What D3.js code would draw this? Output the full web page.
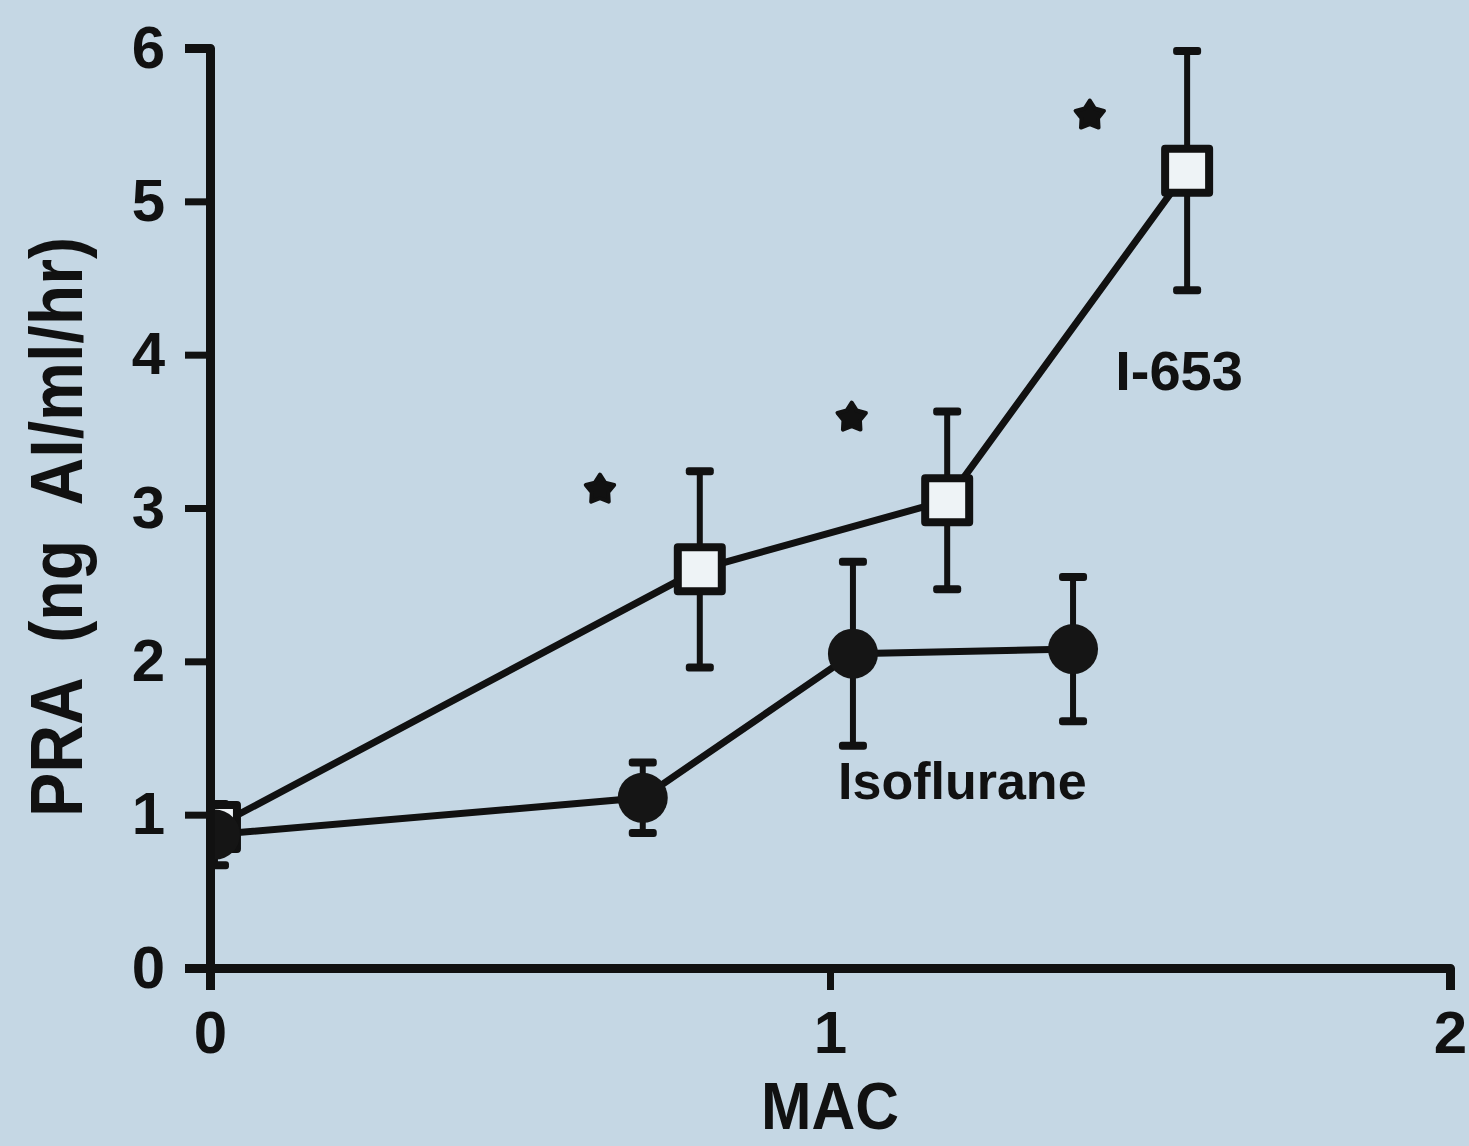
<!DOCTYPE html>
<html lang="en">
<head>
    <meta charset="UTF-8">
    <script src="https://d3js.org/d3.v7.min.js"></script>
    <style>
        body {
            margin: 0;
            background-color: #c5d7e4;
        }
        svg {
            display: block;
            background-color: #c5d7e4;
            font-family: "Liberation Sans", Arial, sans-serif;
            font-weight: bold;
        }
        .axis path, .axis line {
            stroke: #111;
        }
        .axis path {
            stroke-width: 9px;
            stroke-linejoin: round;
        }
        .axis line {
            stroke-width: 7px;
        }
        .axis text {
            font-size: 60px;
            fill: #111;
        }
        .series-line {
            fill: none;
            stroke: #111;
            stroke-width: 7px;
        }
        .err {
            stroke: #111;
            stroke-width: 6px;
        }
        .cap {
            fill: #111;
        }
    </style>
</head>
<body>
<div id="chart"></div>

<script>
    // ticks
    const macTicks = [0, 1, 2];
    const praTicks = [0, 1, 2, 3, 4, 5, 6];

    // Isoflurane (filled circles)
    const isoMac = [0.008, 0.698, 1.037, 1.392];
    const isoPra = [0.87, 1.11, 2.05, 2.08];
    const isoErr = [0.2, 0.23, 0.6, 0.47];

    // I-653 (open squares)
    const i653Mac = [0.008, 0.79, 1.189, 1.576];
    const i653Pra = [0.92, 2.6, 3.05, 5.2];
    const i653Err = [0.12, 0.64, 0.58, 0.78];

    // significance stars
    const starMac = [0.629, 1.035, 1.419];
    const starPra = [3.12, 3.59, 5.56];

    // series labels
    const labelText = ["I-653", "Isoflurane"];
    const labelMac = [1.46, 1.013];
    const labelPra = [3.77, 1.1];

    const W = 1469, H = 1146;

    const svg = d3.select("#chart").append("svg")
        .attr("width", W)
        .attr("height", H);

    const x = d3.scaleLinear().domain([0, 2]).range([210, 1450]);
    const y = d3.scaleLinear().domain([0, 6]).range([968, 48]);

    // markers near MAC 0 are cut at the y axis, as in the print
    svg.append("clipPath")
        .attr("id", "plot-clip")
        .append("rect")
        .attr("x", x(0))
        .attr("y", 0)
        .attr("width", W - x(0))
        .attr("height", H);

    const line = d3.line().x(d => x(d.mac)).y(d => y(d.pra));

    const iso = isoMac.map((m, i) => ({ mac: m, pra: isoPra[i], err: isoErr[i] }));
    const i653 = i653Mac.map((m, i) => ({ mac: m, pra: i653Pra[i], err: i653Err[i] }));

    const plot = svg.append("g").attr("clip-path", "url(#plot-clip)");

    plot.append("path").attr("class", "series-line").attr("d", line(i653));
    plot.append("path").attr("class", "series-line").attr("d", line(iso));

    function errorBars(data) {
        const g = plot.append("g");
        g.selectAll(".err")
            .data(data)
            .enter()
            .append("line")
            .attr("class", "err")
            .attr("x1", d => x(d.mac))
            .attr("x2", d => x(d.mac))
            .attr("y1", d => y(d.pra + d.err))
            .attr("y2", d => y(d.pra - d.err));
        const caps = data.flatMap(d => [d.pra + d.err, d.pra - d.err].map(v => ({ mac: d.mac, v })));
        g.selectAll(".cap")
            .data(caps)
            .enter()
            .append("rect")
            .attr("class", "cap")
            .attr("x", d => x(d.mac) - 14)
            .attr("y", d => y(d.v) - 4)
            .attr("width", 28)
            .attr("height", 8)
            .attr("rx", 3);
    }

    errorBars(i653);
    errorBars(iso);

    // open squares
    plot.selectAll(".sq")
        .data(i653)
        .enter()
        .append("rect")
        .attr("class", "sq")
        .attr("x", d => x(d.mac) - 22)
        .attr("y", d => y(d.pra) - 22)
        .attr("width", 44)
        .attr("height", 44)
        .attr("fill", "#eef3f6")
        .attr("stroke", "#111")
        .attr("stroke-width", 8)
        .attr("stroke-linejoin", "round");

    // filled circles
    plot.selectAll(".dot")
        .data(iso)
        .enter()
        .append("circle")
        .attr("class", "dot")
        .attr("cx", d => x(d.mac))
        .attr("cy", d => y(d.pra))
        .attr("r", 25)
        .attr("fill", "#151515");

    // chunky five-point star, close to the printed glyph
    const fatStar = {
        draw(context, size) {
            const R = Math.sqrt(size) * 0.62, r = R * 0.58;
            for (let i = 0; i < 10; i++) {
                const a = -Math.PI / 2 + i * Math.PI / 5;
                const rr = i % 2 ? r : R;
                if (i === 0) context.moveTo(rr * Math.cos(a), rr * Math.sin(a));
                else context.lineTo(rr * Math.cos(a), rr * Math.sin(a));
            }
            context.closePath();
        }
    };

    svg.selectAll(".star")
        .data(starMac.map((m, i) => ({ mac: m, pra: starPra[i] })))
        .enter()
        .append("path")
        .attr("class", "star")
        .attr("transform", d => `translate(${x(d.mac)},${y(d.pra)})`)
        .attr("d", d3.symbol().type(fatStar).size(580))
        .attr("fill", "#111")
        .attr("stroke", "#111")
        .attr("stroke-width", 4)
        .attr("stroke-linejoin", "round");

    // axes
    svg.append("g")
        .attr("class", "axis")
        .attr("transform", `translate(0,${y(0)})`)
        .call(d3.axisBottom(x).tickValues(macTicks).tickFormat(d3.format("d"))
            .tickSize(22).tickPadding(20));

    svg.append("g")
        .attr("class", "axis")
        .attr("transform", `translate(${x(0)},0)`)
        .call(d3.axisLeft(y).tickValues(praTicks).tickFormat(d3.format("d"))
            .tickSize(25).tickPadding(20));

    // series labels
    svg.selectAll(".series-label")
        .data(labelText)
        .enter()
        .append("text")
        .attr("class", "series-label")
        .attr("x", (d, i) => x(labelMac[i]))
        .attr("y", (d, i) => y(labelPra[i]))
        .attr("font-size", (d, i) => i === 0 ? 56 : 52)
        .attr("fill", "#111")
        .text(d => d);

    // axis titles
    svg.append("text")
        .attr("x", x(1))
        .attr("y", 1129)
        .attr("text-anchor", "middle")
        .attr("font-size", 66)
        .attr("textLength", 138)
        .attr("lengthAdjust", "spacingAndGlyphs")
        .attr("fill", "#111")
        .text("MAC");

    svg.append("text")
        .attr("transform", "rotate(-90)")
        .attr("x", -527)
        .attr("y", 82)
        .attr("text-anchor", "middle")
        .attr("font-size", 74)
        .attr("textLength", 580)
        .attr("lengthAdjust", "spacingAndGlyphs")
        .attr("fill", "#111")
        .attr("xml:space", "preserve")
        .text("PRA  (ng  AI/ml/hr)");
</script>
</body>
</html>
